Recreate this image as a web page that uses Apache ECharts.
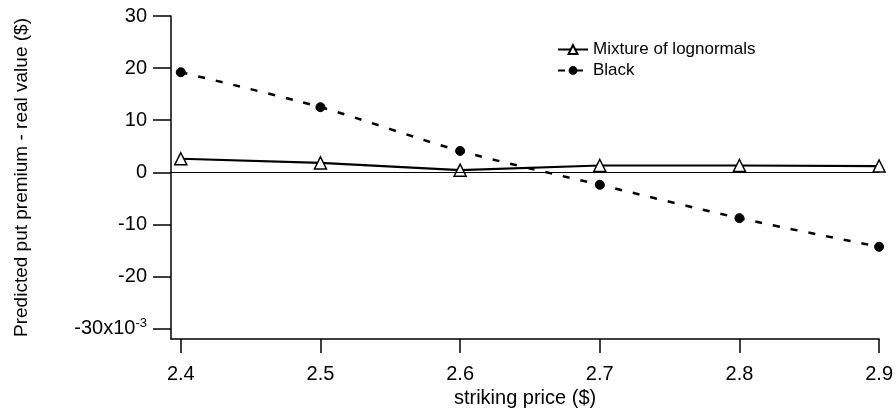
<!DOCTYPE html>
<html>
<head>
<meta charset="utf-8">
<script src="https://cdn.jsdelivr.net/npm/echarts@6/dist/echarts.min.js"></script>
<style>
html,body{margin:0;padding:0;background:#fff;}
#chart{width:896px;height:415px;}
</style>
</head>
<body>
<div id="chart"></div>
<script>
const strikes = [2.4, 2.5, 2.6, 2.7, 2.8, 2.9];
const mixture = [2.6, 1.8, 0.4, 1.3, 1.3, 1.2];
const black = [19.2, 12.5, 4.1, -2.4, -8.8, -14.3];
const xTicks = [2.4, 2.5, 2.6, 2.7, 2.8, 2.9];
const yTicks = [-30, -20, -10, 0, 10, 20, 30];

const FONT = '"Liberation Sans", Arial, sans-serif';
const chart = echarts.init(document.getElementById('chart'));
chart.setOption({
  animation: false,
  backgroundColor: '#fff',
  textStyle: {fontFamily: FONT, color: '#000'},
  grid: {left: 171, right: 15, top: 16, bottom: 76, containLabel: false},
  legend: {
    orient: 'vertical', left: 552, top: 36, itemWidth: 30, itemHeight: 11, itemGap: 4,
    textStyle: {fontFamily: FONT, fontSize: 17, color: '#000'},
    data: ['Mixture of lognormals', 'Black']
  },
  xAxis: {
    type: 'value', min: 2.393, max: 2.9,
    name: 'striking price ($)', nameLocation: 'middle', nameGap: 48,
    nameTextStyle: {fontFamily: FONT, fontSize: 20, color: '#000'},
    axisLine: {show: true, onZero: false, lineStyle: {color: '#000', width: 1.5}},
    axisTick: {show: true, length: 14, customValues: xTicks, lineStyle: {color: '#000', width: 1.5}},
    axisLabel: {customValues: xTicks, margin: 25, fontSize: 20, color: '#000', fontFamily: FONT,
      formatter: v => v.toFixed(1)},
    splitLine: {show: false}
  },
  yAxis: {
    type: 'value', min: -32, max: 30,
    name: 'Predicted put premium - real value ($)', nameLocation: 'middle', nameGap: 140,
    nameTextStyle: {fontFamily: FONT, fontSize: 19, color: '#000'},
    axisLine: {show: true, onZero: false, lineStyle: {color: '#000', width: 1.5}},
    axisTick: {show: true, length: 18, customValues: yTicks, lineStyle: {color: '#000', width: 1.5}},
    axisLabel: {customValues: yTicks, margin: 24, fontSize: 20, color: '#000', fontFamily: FONT,
      formatter: v => v === -30 ? '-30x10{sup|-3}' : String(v),
      rich: {sup: {fontSize: 13, verticalAlign: 'top', fontFamily: FONT, color: '#000', padding: [0, 0, 10, 0]}}},
    splitLine: {show: false}
  },
  series: [
    {
      name: 'Mixture of lognormals', type: 'line',
      data: strikes.map((x, i) => [x, mixture[i]]),
      symbol: 'triangle', symbolSize: 12,
      itemStyle: {color: '#fff', borderColor: '#000', borderWidth: 1.5},
      lineStyle: {color: '#000', width: 2.2},
      markLine: {
        silent: true, symbol: 'none', label: {show: false},
        lineStyle: {color: '#000', width: 1, type: 'solid'},
        data: [{yAxis: 0}]
      }
    },
    {
      name: 'Black', type: 'line', smooth: 0.3,
      data: strikes.map((x, i) => [x, black[i]]),
      symbol: 'circle', symbolSize: 9,
      itemStyle: {color: '#000', borderColor: '#000'},
      lineStyle: {color: '#000', width: 2.5, type: [7, 11]}
    }
  ]
});
</script>
</body>
</html>
